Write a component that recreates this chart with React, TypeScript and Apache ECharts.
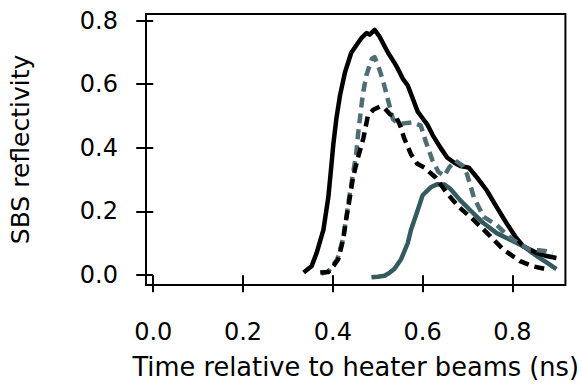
import React, { useEffect, useRef } from "react";
import * as echarts from "echarts";

const xTicks = [0, 0.2, 0.4, 0.6, 0.8];
const yTicks = [0, 0.2, 0.4, 0.6, 0.8];

const blackSolid: [number, number][] = [
  [0.335, 0.008], [0.353, 0.029], [0.364, 0.07], [0.379, 0.142], [0.39, 0.245],
  [0.397, 0.348], [0.401, 0.41], [0.408, 0.493], [0.416, 0.565], [0.427, 0.637],
  [0.441, 0.699], [0.464, 0.746], [0.475, 0.761], [0.482, 0.756], [0.493, 0.771],
  [0.504, 0.75], [0.515, 0.72], [0.523, 0.699], [0.537, 0.668], [0.545, 0.648],
  [0.556, 0.617], [0.567, 0.596], [0.578, 0.555], [0.589, 0.514], [0.6, 0.493],
  [0.611, 0.472], [0.622, 0.441], [0.64, 0.4], [0.655, 0.369], [0.67, 0.354],
  [0.684, 0.343], [0.703, 0.338], [0.721, 0.307], [0.743, 0.266], [0.765, 0.214],
  [0.787, 0.163], [0.806, 0.122], [0.824, 0.091], [0.854, 0.07], [0.876, 0.06],
  [0.898, 0.054],
];

const greyDashed: [number, number][] = [
  [0.375, 0.005], [0.39, 0.012], [0.41, 0.05], [0.422, 0.11], [0.43, 0.18],
  [0.437, 0.25], [0.444, 0.31], [0.452, 0.38], [0.456, 0.44], [0.461, 0.5],
  [0.467, 0.57], [0.475, 0.63], [0.487, 0.68], [0.493, 0.685], [0.503, 0.65],
  [0.512, 0.61], [0.523, 0.55], [0.534, 0.49], [0.548, 0.475], [0.559, 0.477],
  [0.578, 0.48], [0.596, 0.47], [0.607, 0.42], [0.622, 0.36], [0.635, 0.325],
  [0.648, 0.312], [0.66, 0.34], [0.673, 0.36], [0.688, 0.345], [0.699, 0.317],
  [0.714, 0.245], [0.736, 0.183], [0.765, 0.158], [0.785, 0.13], [0.802, 0.111],
  [0.82, 0.095], [0.839, 0.08], [0.858, 0.078], [0.876, 0.075], [0.89, 0.07],
];

const blackDashed: [number, number][] = [
  [0.372, 0.008], [0.39, 0.01], [0.402, 0.03], [0.412, 0.05], [0.423, 0.111],
  [0.43, 0.178], [0.438, 0.245], [0.445, 0.307], [0.456, 0.369], [0.468, 0.43],
  [0.478, 0.5], [0.49, 0.52], [0.505, 0.53], [0.515, 0.525], [0.528, 0.505],
  [0.54, 0.5], [0.55, 0.47], [0.559, 0.43], [0.574, 0.38], [0.588, 0.35],
  [0.604, 0.338], [0.629, 0.307], [0.655, 0.256], [0.681, 0.214], [0.714, 0.173],
  [0.751, 0.122], [0.78, 0.08], [0.817, 0.044], [0.845, 0.028], [0.871, 0.02],
];

const tealSolid: [number, number][] = [
  [0.486, -0.007], [0.5, -0.005], [0.515, -0.002], [0.527, 0.008], [0.537, 0.019],
  [0.552, 0.05], [0.567, 0.101], [0.574, 0.142], [0.589, 0.204], [0.6, 0.251],
  [0.618, 0.276], [0.633, 0.286], [0.648, 0.285], [0.662, 0.271], [0.684, 0.235],
  [0.706, 0.204], [0.736, 0.163], [0.765, 0.132], [0.795, 0.111], [0.824, 0.091],
  [0.854, 0.06], [0.876, 0.04], [0.898, 0.019],
];

const FONT = "DejaVu Sans";

export default function App() {
  const ref = useRef<HTMLDivElement>(null);
  useEffect(() => {
    if (!ref.current) return;
    const chart = echarts.init(ref.current, null, { renderer: "svg" });
    const line = (data: [number, number][], color: string, dashed: boolean) => ({
      type: "line",
      data,
      showSymbol: false,
      symbol: "none",
      smooth: false,
      lineStyle: { color, width: 4.5, type: dashed ? [10, 6] : "solid", cap: "butt", join: "round" },
    });
    chart.setOption({
      animation: false,
      backgroundColor: "#ffffff",
      grid: {
        left: 146, top: 14, right: 12.7, bottom: 95.7,
        show: true, borderColor: "#000", borderWidth: 2, backgroundColor: "transparent",
      },
      xAxis: {
        type: "value",
        min: -0.0161, max: 0.918,
        name: "Time relative to heater beams (ns)",
        nameLocation: "middle",
        nameGap: 69,
        nameTextStyle: { fontFamily: FONT, fontSize: 25.7, color: "#000" },
        axisLine: { show: false },
        splitLine: { show: false },
        axisTick: { show: true, length: 17, inside: false, customValues: xTicks, lineStyle: { color: "#000", width: 2 } },
        axisLabel: {
          customValues: xTicks, margin: 35, fontFamily: FONT, fontSize: 24, color: "#000",
          formatter: (v: number) => v.toFixed(1),
        },
      },
      yAxis: {
        type: "value",
        min: -0.031, max: 0.8207,
        name: "SBS reflectivity",
        nameLocation: "middle",
        nameGap: 113,
        nameTextStyle: { fontFamily: FONT, fontSize: 25, color: "#000" },
        axisLine: { show: false },
        splitLine: { show: false },
        axisTick: { show: true, length: 17, inside: false, customValues: yTicks, lineStyle: { color: "#000", width: 2 } },
        axisLabel: {
          customValues: yTicks, margin: 28, fontFamily: FONT, fontSize: 24, color: "#000",
          formatter: (v: number) => v.toFixed(1),
        },
      },
      series: [
        line(tealSolid, "#345a5e", false),
        line(blackSolid, "#000000", false),
        line(greyDashed, "#4f6d74", true),
        line(blackDashed, "#000000", true),
      ],
    });
    return () => chart.dispose();
  }, []);
  return (
    <div
      ref={ref}
      style={{ position: "fixed", left: 0, top: 0, width: 582, height: 385, background: "#fff" }}
    />
  );
}
